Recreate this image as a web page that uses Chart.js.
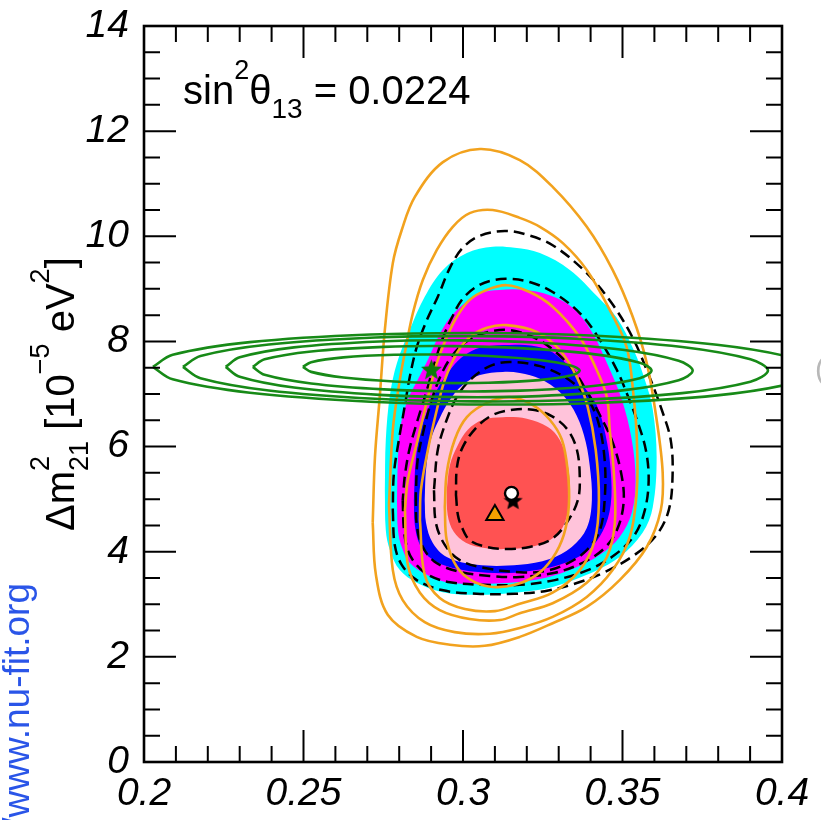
<!DOCTYPE html>
<html>
<head>
<meta charset="utf-8">
<script src="https://cdn.jsdelivr.net/npm/chart.js@4.4.0/dist/chart.umd.min.js"></script>
<style>
  html, body { margin: 0; padding: 0; background: #fff; }
  canvas { display: block; }
</style>
</head>
<body>
<canvas id="c" width="821" height="820"></canvas>
<script>
// ---- axis ticks ----
const xTickValues = [0.2, 0.25, 0.3, 0.35, 0.4];
const xTickLabels = ['0.2', '0.25', '0.3', '0.35', '0.4'];
const yTickValues = [0, 2, 4, 6, 8, 10, 12, 14];
const yTickLabels = ['0', '2', '4', '6', '8', '10', '12', '14'];

// ---- combined fit, filled regions (sin^2 theta12, Delta m^2_21) ----
const fill3s = [[0.2755,5.17],[0.2758,4.41],[0.2771,4.03],[0.2802,3.65],[0.2855,3.41],[0.2937,3.23],[0.3043,3.18],[0.3178,3.23],[0.3281,3.33],[0.3388,3.56],[0.3491,3.90],[0.3563,4.36],[0.3595,4.85],[0.3607,5.80],[0.3595,6.70],[0.3570,7.27],[0.3535,7.84],[0.3482,8.45],[0.3422,8.85],[0.3335,9.36],[0.3241,9.68],[0.3162,9.78],[0.3093,9.80],[0.3012,9.68],[0.2937,9.36],[0.2880,8.85],[0.2833,8.22],[0.2793,7.59],[0.2771,6.98],[0.2758,6.13]];
const fill99 = [[0.2793,4.98],[0.2796,4.41],[0.2808,4.09],[0.2833,3.79],[0.2887,3.56],[0.2949,3.42],[0.3043,3.39],[0.3147,3.41],[0.3256,3.50],[0.3350,3.69],[0.3429,3.94],[0.3491,4.28],[0.3529,4.74],[0.3541,5.36],[0.3529,6.13],[0.3498,6.89],[0.3454,7.55],[0.3404,8.18],[0.3344,8.64],[0.3272,8.88],[0.3194,8.98],[0.3115,8.98],[0.3053,8.92],[0.3006,8.73],[0.2959,8.45],[0.2921,8.07],[0.2890,7.65],[0.2858,7.27],[0.2827,6.89],[0.2805,6.41],[0.2796,5.75]];
const fill2s = [[0.2846,4.98],[0.2849,4.51],[0.2865,4.13],[0.2902,3.86],[0.2968,3.69],[0.3075,3.60],[0.3178,3.61],[0.3303,3.75],[0.3388,4.01],[0.3438,4.39],[0.3463,4.89],[0.3463,5.55],[0.3447,6.22],[0.3419,6.79],[0.3375,7.17],[0.3328,7.55],[0.3266,7.84],[0.3194,7.93],[0.3125,7.93],[0.3053,7.88],[0.3006,7.74],[0.2965,7.50],[0.2927,7.17],[0.2896,6.79],[0.2868,6.32],[0.2852,5.75]];
const fill90 = [[0.2880,4.98],[0.2884,4.55],[0.2905,4.17],[0.2949,3.90],[0.3043,3.75],[0.3178,3.75],[0.3272,3.86],[0.3341,4.09],[0.3388,4.45],[0.3404,4.98],[0.3397,5.65],[0.3379,6.22],[0.3347,6.70],[0.3303,7.04],[0.3241,7.29],[0.3178,7.40],[0.3125,7.42],[0.3053,7.36],[0.2999,7.17],[0.2959,6.89],[0.2927,6.54],[0.2899,6.13],[0.2884,5.55]];
const fill1s = [[0.2949,5.17],[0.2952,4.70],[0.2971,4.38],[0.3009,4.17],[0.3068,4.07],[0.3137,4.05],[0.3209,4.09],[0.3272,4.22],[0.3313,4.47],[0.3332,4.89],[0.3335,5.31],[0.3325,5.75],[0.3303,6.13],[0.3266,6.37],[0.3200,6.53],[0.3125,6.56],[0.3062,6.51],[0.3015,6.32],[0.2984,6.03],[0.2959,5.65]];

// ---- alternative solar model, dashed contours ----
const dash1s = [[0.2978,5.08],[0.2984,4.70],[0.2996,4.47],[0.3021,4.22],[0.3075,4.09],[0.3137,4.05],[0.3209,4.09],[0.3278,4.24],[0.3325,4.55],[0.3360,4.98],[0.3366,5.42],[0.3357,5.94],[0.3328,6.32],[0.3278,6.58],[0.3219,6.70],[0.3156,6.70],[0.3093,6.60],[0.3043,6.37],[0.2999,5.99],[0.2981,5.61]];
const dash90 = [[0.2909,5.17],[0.2915,4.55],[0.2943,4.13],[0.2990,3.84],[0.3068,3.69],[0.3178,3.61],[0.3256,3.63],[0.3325,3.77],[0.3388,4.03],[0.3429,4.41],[0.3444,4.98],[0.3444,5.75],[0.3422,6.51],[0.3382,6.98],[0.3325,7.30],[0.3241,7.53],[0.3147,7.61],[0.3084,7.53],[0.3028,7.30],[0.2984,6.98],[0.2949,6.51],[0.2921,5.94]];
const dash2s = [[0.2852,5.08],[0.2855,4.51],[0.2871,4.13],[0.2909,3.82],[0.2981,3.63],[0.3084,3.54],[0.3178,3.52],[0.3288,3.60],[0.3375,3.79],[0.3444,4.07],[0.3485,4.45],[0.3504,4.98],[0.3494,5.55],[0.3466,6.13],[0.3429,6.60],[0.3391,7.02],[0.3350,7.42],[0.3294,7.78],[0.3225,8.07],[0.3140,8.22],[0.3068,8.16],[0.3009,7.99],[0.2965,7.72],[0.2931,7.36],[0.2902,6.89],[0.2877,6.32],[0.2858,5.75]];
const dash99 = [[0.2811,4.98],[0.2815,4.41],[0.2827,4.03],[0.2849,3.79],[0.2890,3.56],[0.2959,3.42],[0.3068,3.37],[0.3178,3.37],[0.3288,3.46],[0.3391,3.65],[0.3476,3.94],[0.3538,4.32],[0.3570,4.79],[0.3582,5.36],[0.3573,5.94],[0.3545,6.51],[0.3513,7.02],[0.3482,7.46],[0.3429,8.03],[0.3366,8.54],[0.3281,8.94],[0.3209,9.13],[0.3140,9.19],[0.3084,9.15],[0.3037,9.02],[0.2996,8.79],[0.2965,8.45],[0.2937,8.07],[0.2912,7.61],[0.2887,7.08],[0.2858,6.51],[0.2833,5.97],[0.2818,5.46]];
const dash3s = [[0.2780,4.79],[0.2786,4.13],[0.2808,3.75],[0.2855,3.46],[0.2934,3.27],[0.3043,3.20],[0.3162,3.20],[0.3256,3.25],[0.3350,3.39],[0.3444,3.61],[0.3538,3.94],[0.3607,4.32],[0.3645,4.79],[0.3657,5.46],[0.3651,6.13],[0.3623,6.70],[0.3585,7.32],[0.3532,8.07],[0.3466,8.73],[0.3388,9.30],[0.3281,9.83],[0.3194,10.04],[0.3131,10.10],[0.3053,10.01],[0.2999,9.78],[0.2959,9.40],[0.2921,8.85],[0.2887,8.41],[0.2855,7.89],[0.2833,7.32],[0.2818,6.79],[0.2799,6.13],[0.2783,5.46]];

// ---- solar-only analysis, orange contours ----
const solar1s = [[0.2943,4.85],[0.2949,4.22],[0.2981,3.71],[0.3031,3.44],[0.3093,3.33],[0.3162,3.37],[0.3231,3.56],[0.3281,3.88],[0.3316,4.32],[0.3332,4.89],[0.3328,5.55],[0.3310,6.13],[0.3272,6.51],[0.3219,6.79],[0.3147,6.94],[0.3075,6.83],[0.3012,6.56],[0.2974,6.13],[0.2949,5.50]];
const solar90 = [[0.2865,4.60],[0.2880,3.56],[0.2927,3.12],[0.3006,2.91],[0.3100,2.87],[0.3178,3.01],[0.3281,3.22],[0.3366,3.65],[0.3413,4.22],[0.3426,4.98],[0.3416,5.94],[0.3391,6.75],[0.3357,7.32],[0.3303,7.84],[0.3231,8.18],[0.3137,8.31],[0.3075,8.26],[0.3021,8.08],[0.2981,7.78],[0.2943,7.27],[0.2918,6.70],[0.2890,5.94],[0.2868,5.17]];
const solar2s = [[0.2818,4.79],[0.2827,3.75],[0.2865,3.22],[0.2927,2.89],[0.3021,2.72],[0.3116,2.70],[0.3178,2.83],[0.3281,3.02],[0.3388,3.41],[0.3451,3.90],[0.3476,4.55],[0.3473,5.50],[0.3460,6.32],[0.3451,6.94],[0.3419,7.46],[0.3366,8.08],[0.3281,8.66],[0.3209,8.94],[0.3137,9.07],[0.3075,8.98],[0.3021,8.79],[0.2981,8.47],[0.2949,8.08],[0.2918,7.59],[0.2890,6.94],[0.2858,6.13],[0.2827,5.36]];
const solar99 = [[0.2768,4.89],[0.2780,3.65],[0.2811,3.08],[0.2880,2.66],[0.2974,2.47],[0.3084,2.44],[0.3178,2.55],[0.3281,2.76],[0.3388,3.14],[0.3469,3.65],[0.3523,4.28],[0.3545,5.17],[0.3545,6.13],[0.3535,6.94],[0.3513,7.89],[0.3460,8.60],[0.3388,9.36],[0.3313,9.87],[0.3241,10.18],[0.3178,10.35],[0.3093,10.50],[0.3021,10.44],[0.2968,10.18],[0.2918,9.74],[0.2874,9.17],[0.2843,8.54],[0.2821,7.89],[0.2802,7.27],[0.2780,6.32]];
const solar3s = [[0.2717,4.55],[0.2727,3.56],[0.2764,2.80],[0.2855,2.38],[0.2959,2.23],[0.3068,2.21],[0.3178,2.38],[0.3281,2.64],[0.3388,2.95],[0.3491,3.46],[0.3576,4.09],[0.3620,4.79],[0.3626,5.50],[0.3607,6.51],[0.3576,7.59],[0.3532,8.47],[0.3469,9.36],[0.3388,10.18],[0.3281,10.94],[0.3178,11.45],[0.3053,11.66],[0.2937,11.41],[0.2849,10.75],[0.2808,10.12],[0.2780,9.49],[0.2755,8.22],[0.2739,6.94],[0.2724,5.80]];

// ---- KamLAND, green contours ----
const kam1s = [[0.2498,7.515],[0.2524,7.605],[0.2625,7.696],[0.2784,7.746],[0.2932,7.75],[0.3080,7.722],[0.3239,7.646],[0.3340,7.539],[0.3366,7.445],[0.3340,7.355],[0.3239,7.264],[0.3080,7.214],[0.2932,7.21],[0.2784,7.238],[0.2625,7.314],[0.2524,7.421]];
const kam90 = [[0.2341,7.515],[0.2378,7.660],[0.2524,7.809],[0.2752,7.896],[0.2966,7.91],[0.3180,7.872],[0.3408,7.759],[0.3554,7.594],[0.3591,7.445],[0.3554,7.300],[0.3408,7.151],[0.3180,7.064],[0.2966,7.05],[0.2752,7.088],[0.2524,7.201],[0.2378,7.366]];
const kam2s = [[0.2256,7.515],[0.2300,7.698],[0.2470,7.887],[0.2738,8.000],[0.2988,8.02],[0.3238,7.976],[0.3506,7.837],[0.3676,7.632],[0.3720,7.445],[0.3676,7.262],[0.3506,7.073],[0.3238,6.960],[0.2988,6.94],[0.2738,6.984],[0.2470,7.123],[0.2300,7.328]];
const kam99 = [[0.2122,7.515],[0.2177,7.725],[0.2391,7.943],[0.2725,8.075],[0.3039,8.10],[0.3353,8.051],[0.3687,7.893],[0.3901,7.659],[0.3956,7.445],[0.3901,7.235],[0.3687,7.017],[0.3353,6.885],[0.3039,6.86],[0.2725,6.909],[0.2391,7.067],[0.2177,7.301]];
const kam3s = [[0.2028,7.515],[0.2090,7.746],[0.2332,7.986],[0.2710,8.131],[0.3064,8.16],[0.3418,8.107],[0.3796,7.936],[0.4038,7.680],[0.4100,7.445],[0.4038,7.214],[0.3796,6.974],[0.3418,6.829],[0.3064,6.80],[0.2710,6.853],[0.2332,7.024],[0.2090,7.280]];

// ---- best-fit points ----
const bestFill  = [0.3157, 4.98];  // black star
const bestDash  = [0.3152, 5.11];  // white dot
const bestSolar = [0.3100, 4.70];  // orange triangle
const bestKam   = [0.2901, 7.47];  // green star

const FONT = "'Liberation Sans', Arial, Helvetica, sans-serif";

// closed contour -> point objects
const loop = a => a.concat([a[0]]).map(([x, y]) => ({ x, y }));
const one = p => [{ x: p[0], y: p[1] }];

function starImage(size, color) {
  const c = document.createElement('canvas');
  c.width = c.height = size;
  const g = c.getContext('2d');
  const r = size / 2, ri = r * 0.42;
  g.beginPath();
  for (let i = 0; i < 10; i++) {
    const a = -Math.PI / 2 + i * Math.PI / 5;
    const rr = i % 2 ? ri : r - 0.5;
    g.lineTo(r + rr * Math.cos(a), r + 1 + rr * Math.sin(a));
  }
  g.closePath();
  g.fillStyle = color;
  g.fill();
  return c;
}

const region = (data, color, order) => ({
  data: loop(data), order, fill: 'shape', backgroundColor: color,
  borderWidth: 0, borderColor: 'rgba(0,0,0,0)', tension: 0.35, clip: 0
});
const curve = (data, color, order, width, dash) => ({
  data: loop(data), order, fill: false, borderColor: color,
  borderWidth: width, borderDash: dash || [], tension: 0.35, clip: 0
});

const ORANGE = '#f2a21e', GREEN = '#178a17';
const DASH = [11, 6];

const datasets = [
  region(fill3s, '#00ffff', 30),
  region(fill99, '#ff00ff', 29),
  region(fill2s, '#0000ff', 28),
  region(fill90, '#ffc3da', 27),
  region(fill1s, '#ff5252', 26),
  curve(dash3s, '#000', 20, 2.5, DASH),
  curve(dash99, '#000', 19, 2.5, DASH),
  curve(dash2s, '#000', 18, 2.5, DASH),
  curve(dash90, '#000', 17, 2.5, DASH),
  curve(dash1s, '#000', 16, 2.5, DASH),
  curve(solar3s, ORANGE, 15, 2.6),
  curve(solar99, ORANGE, 14, 2.6),
  curve(solar2s, ORANGE, 13, 2.6),
  curve(solar90, ORANGE, 12, 2.6),
  curve(solar1s, ORANGE, 11, 2.6),
  curve(kam3s, GREEN, 10, 2.6),
  curve(kam99, GREEN, 9, 2.6),
  curve(kam2s, GREEN, 8, 2.6),
  curve(kam90, GREEN, 7, 2.6),
  curve(kam1s, GREEN, 6, 2.6),
  { data: one(bestKam), order: 4, showLine: false, pointStyle: starImage(23, '#0b7a0b'), pointRadius: 11 },
  { data: one(bestFill), order: 3, showLine: false, pointStyle: starImage(21, '#000'), pointRadius: 10 },
  { data: one(bestSolar), order: 2, showLine: false, pointStyle: 'triangle', pointRadius: 10,
    pointBackgroundColor: '#f5a000', pointBorderColor: '#000', pointBorderWidth: 2 },
  { data: one(bestDash), order: 1, showLine: false, pointStyle: 'circle', pointRadius: 6.5,
    pointBackgroundColor: '#fff', pointBorderColor: '#000', pointBorderWidth: 2.4 }
];

// rich text: parts laid out along the baseline; "hold" parts stack with the next one
function drawRich(ctx, parts, x, y, angle) {
  ctx.save();
  ctx.translate(x, y);
  ctx.rotate(angle || 0);
  ctx.textAlign = 'left';
  ctx.textBaseline = 'alphabetic';
  ctx.fillStyle = '#000';
  let cx = 0, held = 0;
  for (const p of parts) {
    ctx.font = `${p.size}px ${FONT}`;
    ctx.fillText(p.t, cx, p.dy || 0);
    const w = ctx.measureText(p.t).width;
    if (p.hold) { held = w; continue; }
    cx += Math.max(w, held);
    held = 0;
  }
  ctx.restore();
}

const frameAndTicks = {
  id: 'frameAndTicks',
  afterDatasetsDraw(chart) {
    const { ctx, chartArea: a, scales: { x, y } } = chart;
    ctx.save();
    ctx.strokeStyle = '#000';
    ctx.lineWidth = 2;
    ctx.beginPath();
    const xStep = 0.01, yStep = 0.5;
    const nx = Math.round((xTickValues[xTickValues.length - 1] - xTickValues[0]) / xStep);
    for (let i = 0; i <= nx; i++) {
      const px = x.getPixelForValue(xTickValues[0] + i * xStep);
      const len = i % 5 === 0 ? 32 : 16;
      ctx.moveTo(px, a.bottom); ctx.lineTo(px, a.bottom - len);
      ctx.moveTo(px, a.top); ctx.lineTo(px, a.top + len);
    }
    const ny = Math.round((yTickValues[yTickValues.length - 1] - yTickValues[0]) / yStep);
    for (let i = 0; i <= ny; i++) {
      const py = y.getPixelForValue(yTickValues[0] + i * yStep);
      const len = i % 4 === 0 ? 32 : 16;
      ctx.moveTo(a.left, py); ctx.lineTo(a.left + len, py);
      ctx.moveTo(a.right, py); ctx.lineTo(a.right - len, py);
    }
    ctx.stroke();
    ctx.lineWidth = 2.6;
    ctx.strokeRect(a.left, a.top, a.right - a.left, a.bottom - a.top);
    ctx.restore();
  },
  afterDraw(chart) {
    const ctx = chart.ctx;
    // panel annotation
    drawRich(ctx, [
      { t: 'sin', size: 40 },
      { t: '2', size: 27, dy: -25 },
      { t: 'θ', size: 40 },
      { t: '13', size: 28, dy: 14 },
      { t: ' = 0.0224', size: 40 }
    ], 183, 104);
    // y-axis title
    drawRich(ctx, [
      { t: 'Δm', size: 40 },
      { t: '2', size: 27, dy: -25, hold: true },
      { t: '21', size: 27, dy: 14 },
      { t: ' [10', size: 40 },
      { t: '−5', size: 27, dy: -25 },
      { t: ' eV', size: 40 },
      { t: '2', size: 27, dy: -25 },
      { t: ']', size: 40 }
    ], 74, 531, -Math.PI / 2);
    // site link along the left edge
    ctx.save();
    ctx.translate(29, 583);
    ctx.rotate(-Math.PI / 2);
    ctx.font = `37px ${FONT}`;
    ctx.fillStyle = '#2a55e8';
    ctx.textAlign = 'right';
    ctx.textBaseline = 'alphabetic';
    ctx.fillText('http://www.nu-fit.org', 0, 0);
    ctx.restore();
    // clipped glyph of the neighbouring panel
    ctx.save();
    ctx.font = `30px ${FONT}`;
    ctx.fillStyle = '#b8b8b8';
    ctx.fillText('(', 815, 379);
    ctx.restore();
  }
};

Chart.defaults.font.family = FONT;

new Chart(document.getElementById('c'), {
  type: 'line',
  data: { datasets },
  plugins: [frameAndTicks],
  options: {
    responsive: false,
    animation: false,
    devicePixelRatio: 1,
    events: [],
    layout: { padding: { left: 0, right: 39, top: 26, bottom: 0 } },
    elements: {
      point: { radius: 0 },
      line: { borderJoinStyle: 'round', borderCapStyle: 'butt' }
    },
    plugins: { legend: { display: false }, tooltip: { enabled: false }, filler: { propagate: false } },
    scales: {
      x: {
        type: 'linear', min: 0.2, max: 0.4,
        grid: { display: false, drawTicks: false },
        border: { display: false },
        afterFit(s) { s.height = 58; },
        afterBuildTicks(s) { s.ticks = xTickValues.map(v => ({ value: v })); },
        ticks: {
          autoSkip: false, maxRotation: 0, minRotation: 0, padding: 9, color: '#000',
          font: { size: 39, style: 'italic', family: FONT },
          callback: (v, i) => xTickLabels[i]
        }
      },
      y: {
        type: 'linear', min: 0, max: 14,
        grid: { display: false, drawTicks: false },
        border: { display: false },
        afterFit(s) { s.width = 144; },
        afterBuildTicks(s) { s.ticks = yTickValues.map(v => ({ value: v })); },
        ticks: {
          autoSkip: false, padding: 15, color: '#000',
          font: { size: 39, style: 'italic', family: FONT, lineHeight: 0.5 },
          callback: (v, i) => yTickLabels[i]
        }
      }
    }
  }
});
</script>
</body>
</html>
